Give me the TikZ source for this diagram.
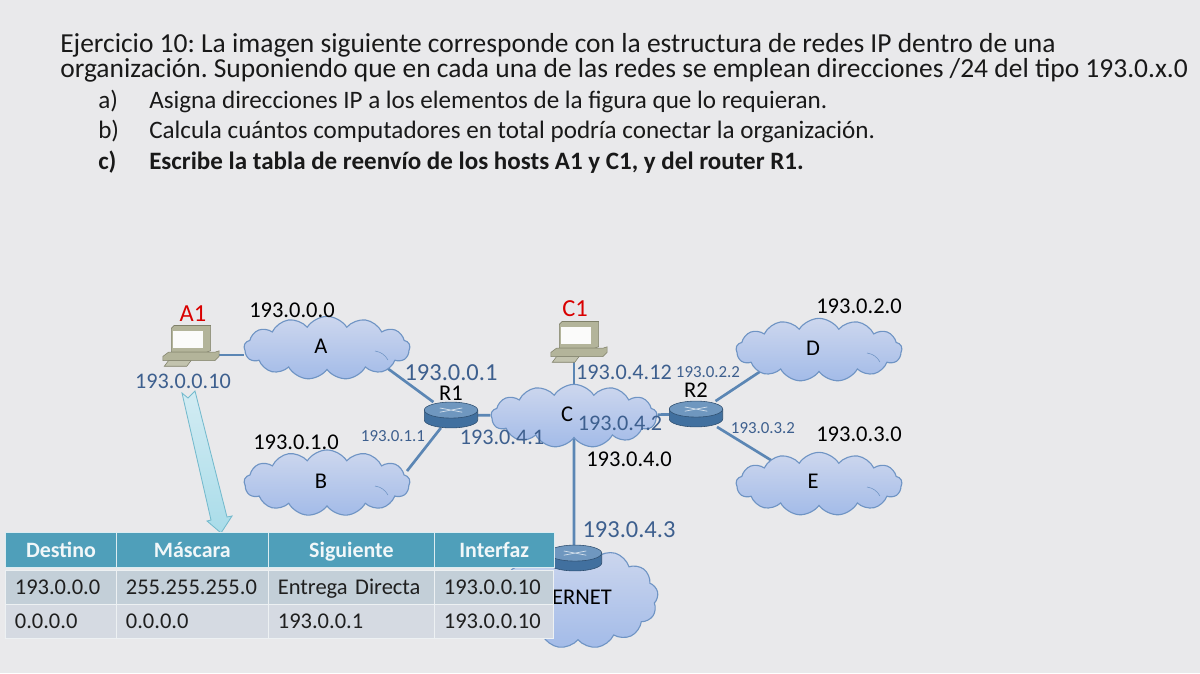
\documentclass[tikz,border=0pt]{standalone}
\usepackage{fontspec}
\setmainfont{Carlito}
\frenchspacing
\usetikzlibrary{shapes.symbols}
\pgfdeclarelayer{back}
\pgfdeclarelayer{page}
\pgfsetlayers{page,back,main}
\definecolor{pagegray}{HTML}{E9E9EB}
\definecolor{linkblue}{HTML}{5B86B4}
\definecolor{ipblue}{HTML}{3D5F8E}
\definecolor{cloudedge}{HTML}{6F94C4}
\definecolor{cloudtop}{HTML}{CDD7EE}
\definecolor{cloudbot}{HTML}{A3BBE8}
\definecolor{routertop}{HTML}{6F97BF}
\definecolor{routerside}{HTML}{41709F}
\definecolor{headteal}{HTML}{4F9FBA}
\definecolor{rowone}{HTML}{C3CFD8}
\definecolor{rowtwo}{HTML}{D5DAE2}
\definecolor{pcbody}{HTML}{B3B49A}
\definecolor{pcdark}{HTML}{7F8069}
\definecolor{arrowtop}{HTML}{D3ECF3}
\definecolor{arrowbot}{HTML}{A9DCE9}
\definecolor{arrowedge}{HTML}{74BACD}
\tikzset{
  headline/.style={anchor=base west,inner sep=0pt,text=black!90,font=\fontsize{19.55}{21}\selectfont},
  itemline/.style={anchor=base west,inner sep=0pt,text=black!90,font=\fontsize{17.85}{20}\selectfont},
  netcloud/.style={cloud,cloud puffs=13,cloud puff arc=115,aspect=2.6,draw=cloudedge,thick,top color=cloudtop,bottom color=cloudbot,inner sep=0pt},
  link/.style={draw=linkblue,line width=1.9pt},
  netname/.style={font=\fontsize{16}{18}\selectfont,inner sep=0pt},
  ipsmall/.style={text=ipblue,font=\fontsize{12}{14}\selectfont,inner sep=0pt},
  ipmid/.style={text=ipblue,font=\fontsize{15.8}{18}\selectfont,inner sep=0pt},
  ipbig/.style={text=ipblue,font=\fontsize{17.4}{20}\selectfont,inner sep=0pt},
  hostname/.style={text=red!85!black,font=\fontsize{17.4}{20}\selectfont,inner sep=0pt},
  headcell/.style={anchor=north west,fill=headteal,draw=white!80!headteal,line width=.6pt,text=white!92!headteal,inner sep=0pt,minimum height=24.9pt,text height=12.5pt,text depth=2pt,font=\fontsize{15.6}{18}\selectfont\bfseries},
  rowcell/.style={anchor=north west,draw=white!70!rowone,line width=.5pt,inner sep=0pt,outer sep=0pt,minimum height=24.2pt,text height=12pt,text depth=2pt,font=\fontsize{16}{18}\selectfont,text=black!88},
}
\newcommand{\router}[2]{%
  \node[inner sep=0pt,minimum width=38pt,minimum height=18pt] (#1) at (#2) {};
  \draw[fill=routerside,draw=routerside!70!black] ([shift={(-19pt,3.5pt)}]#1.center) -- ++(0,-7pt) arc[start angle=180,end angle=360,x radius=19pt,y radius=5.7pt] -- ++(0,7pt) -- cycle;
  \draw[fill=routertop,draw=routerside!70!black] ([yshift=3.5pt]#1.center) ellipse[x radius=19pt,y radius=5.7pt];
  \draw[white!70!routertop,line width=.5pt] ([shift={(-8pt,5pt)}]#1.center) -- ([shift={(8pt,2pt)}]#1.center) ([shift={(-8pt,2pt)}]#1.center) -- ([shift={(8pt,5pt)}]#1.center);
}
\newcommand{\laptop}[2]{%
  \node[inner sep=0pt,minimum width=40pt,minimum height=15pt] (#1) at (#2) {};
  \draw[fill=pcbody,draw=pcdark,line width=.4pt] ([shift={(-14pt,2pt)}]#1.center) -- ++(0,17pt) -- ++(2pt,2pt) -- ++(26pt,0) -- ++(0,-18pt) -- ++(-3pt,-1pt) -- cycle;
  \fill[white!95!pcbody] ([shift={(-12.5pt,5pt)}]#1.center) rectangle ++(21pt,12pt);
  \draw[fill=pcbody,draw=pcdark,line width=.4pt] ([shift={(-20pt,-4pt)}]#1.center) -- ++(0,3pt) -- ++(4pt,3pt) -- ++(33pt,0) -- ++(3pt,1pt) -- ++(0,-4pt) -- ++(-3pt,-3pt) -- cycle;
  \draw[fill=pcbody!80!white,draw=pcdark,line width=.4pt] ([shift={(-19pt,-8pt)}]#1.center) -- ++(16pt,0) -- ++(3pt,4pt) -- ++(-16pt,0) -- cycle;
}
\begin{document}
\begin{tikzpicture}[x=0.025cm,y=-0.025cm]
  \begin{pgfonlayer}{page}
    \fill[pagegray] (0,0) rectangle (1200,673);
  \end{pgfonlayer}
  \useasboundingbox (0,0) rectangle (1200,673);
  % statement
  \node[headline] (line1) at (60,52) {Ejercicio 10: La imagen siguiente corresponde con la estructura de redes IP dentro de una};
  \node[headline] (line2) at (60,77) {organización. Suponiendo que en cada una de las redes se emplean direcciones /24 del tipo 193.0.x.0};
  \node[itemline] (marka) at (98,108) {a)};
  \node[itemline] (itema) at (149,108) {Asigna direcciones IP a los elementos de la figura que lo requieran.};
  \node[itemline] (markb) at (98,138) {b)};
  \node[itemline] (itemb) at (149,138) {Calcula cuántos computadores en total podría conectar la organización.};
  \node[itemline,font=\fontsize{17.8}{20}\selectfont\bfseries] (markc) at (98,169) {c)};
  \node[itemline,font=\fontsize{17.8}{20}\selectfont\bfseries] (itemc) at (149,169) {Escribe la tabla de reenvío de los hosts A1 y C1, y del router R1.};
  % clouds
  \node[netcloud,minimum width=118pt,minimum height=45pt] (netA) at (327,348) {};
  \node[netcloud,minimum width=118pt,minimum height=47pt] (netB) at (327,483) {};
  \node[netcloud,minimum width=118pt,minimum height=45pt] (netC) at (574,416) {};
  \node[netcloud,minimum width=118pt,minimum height=45pt] (netD) at (819,350) {};
  \node[netcloud,minimum width=118pt,minimum height=45pt] (netE) at (819,484) {};
  \node[netcloud,minimum width=114pt,minimum height=72pt] (netI) at (578,598) {};
  \foreach \net in {netA,netB,netD,netE}{
    \draw[cloudedge] ([shift={(48,3)}]\net.center) to[bend left=25] ++(13,9);
  }
  \node[netname] (nameA) at (321,346) {A};
  \node[netname] (nameB) at (321,481) {B};
  \node[netname] (nameC) at (567,414) {C};
  \node[netname] (nameD) at (813,348) {D};
  \node[netname] (nameE) at (813,481) {E};
  \node[netname] (nameI) at (582,597) {ERNET};
  % routers and hosts
  \router{R1}{451,415}
  \router{R2}{696,414}
  \router{R3}{575,558}
  \laptop{pcA}{191,355}
  \laptop{pcC}{579,351}
  % links
  \begin{pgfonlayer}{back}
    \draw[link] (pcA.east) -- (pcA.east -| netA.west);
    \draw[link] (netA.center) ++(56,17) -- (R1);
    \draw[link] (netB.center) ++(80,-12) -- (R1);
    \draw[link] (R1) -- (netC);
    \draw[link] (netC) -- (R2);
    \draw[link] (pcC.south -| netC.north) -- (netC.center);
    \draw[link] (netC.center) -- (R3.center -| netC.south);
    \draw[link] (R2) -- ([shift={(-49,15)}]netD.center);
    \draw[link] (R2) -- ([shift={(-45,-22)}]netE.center);
  \end{pgfonlayer}
  % addresses
  \node[hostname] (nameA1) at (193,314) {A1};
  \node[hostname] (nameC1) at (575,309) {C1};
  \node[netname] (labelR1) at (451,393) {R1};
  \node[netname] (labelR2) at (696,390) {R2};
  \node[netname] (ipA) at (292,310) {193.0.0.0};
  \node[netname] (ipB) at (296,442) {193.0.1.0};
  \node[netname] (ipC) at (629,459) {193.0.4.0};
  \node[netname] (ipD) at (859,306) {193.0.2.0};
  \node[netname] (ipE) at (859,434) {193.0.3.0};
  \node[ipmid] (ipA1) at (183,381) {193.0.0.10};
  \node[ipbig] (ipR1a) at (451,373) {193.0.0.1};
  \node[ipsmall] (ipR1b) at (393,436) {193.0.1.1};
  \node[ipmid] (ipR1c) at (502,437) {193.0.4.1};
  \node[ipmid] (ipC1) at (624,372) {193.0.4.12};
  \node[ipsmall] (ipR2a) at (708,372) {193.0.2.2};
  \node[ipmid] (ipR2b) at (620,423) {193.0.4.2};
  \node[ipsmall] (ipR2c) at (763,428) {193.0.3.2};
  \node[ipbig] (ipR3) at (629,530) {193.0.4.3};
  % arrow to the table
  \draw[draw=arrowedge,top color=arrowtop,bottom color=arrowbot,line width=.6pt] (182,393) -- (188,398) -- (195,391) -- (227,517) -- (232,516) -- (221,533) -- (207,521) -- (211,520) -- cycle;
  % table
  \node[headcell,minimum width=79pt] (headA) at (5,532) {Destino};
  \node[headcell,minimum width=108pt] (headB) at (116,532) {Máscara};
  \node[headcell,minimum width=118pt] (headC) at (268,532) {Siguiente};
  \node[headcell,minimum width=85pt] (headD) at (434,532) {Interfaz};
  \foreach \rowy/\rowcol/\txta/\txtb/\txtc/\txtd in {570/rowone/193.0.0.0/255.255.255.0/Entrega Directa/193.0.0.10,604/rowtwo/0.0.0.0/0.0.0.0/193.0.0.1/193.0.0.10}{
    \node[rowcell,fill=\rowcol,minimum width=79pt,text width=65pt,align=left] (cellA\rowy) at (5,\rowy) {\txta};
    \node[rowcell,fill=\rowcol,minimum width=108pt,text width=94pt,align=left] (cellB\rowy) at (116,\rowy) {\txtb};
    \node[rowcell,fill=\rowcol,minimum width=118pt,text width=104pt,align=left] (cellC\rowy) at (268,\rowy) {\txtc};
    \node[rowcell,fill=\rowcol,minimum width=85pt,text width=71pt,align=left] (cellD\rowy) at (434,\rowy) {\txtd};
  }
\end{tikzpicture}
\end{document}
